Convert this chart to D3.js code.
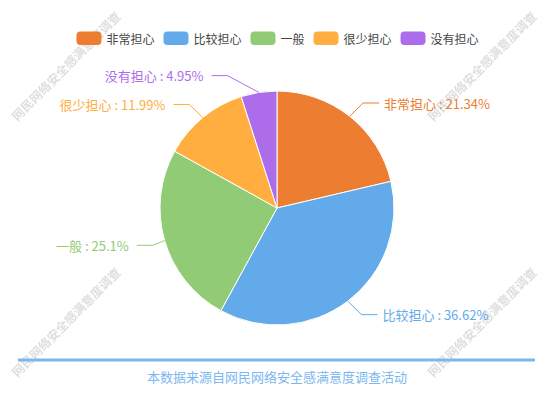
<!DOCTYPE html>
<html><head><meta charset="utf-8">
<script src="https://cdn.jsdelivr.net/npm/d3@7"></script>
<style>html,body{margin:0;padding:0;background:#fff;}svg{display:block;font-family:"Noto Sans CJK SC","Noto Sans",sans-serif;}</style>
</head><body>
<svg id="chart" width="554" height="393"></svg>
<script>
const categories = ["非常担心","比较担心","一般","很少担心","没有担心"];
const values = [21.34, 36.62, 25.1, 11.99, 4.95];
const colors = ["#ED7D31","#62AAE9","#92CB75","#FFAE3F","#AD6DEB"];
const watermarkText = "网民网络安全感满意度调查";
const footerText = "本数据来源自网民网络安全感满意度调查活动";

const W = 554, H = 393;
const svg = d3.select("#chart");

// watermark pattern
const defs = svg.append("defs");
const pat = defs.append("pattern").attr("id","wm").attr("patternUnits","userSpaceOnUse")
  .attr("width",416).attr("height",256);
pat.append("text").attr("transform","translate(66,66) rotate(-45)")
  .attr("text-anchor","middle").attr("dominant-baseline","central")
  .attr("font-size",12.3).attr("font-weight","bold").attr("fill","#000").attr("fill-opacity",0.13)
  .text(watermarkText);
svg.append("rect").attr("width",W).attr("height",H).attr("fill","url(#wm)");

// legend
const legend = svg.append("g");
const items = legend.selectAll("g").data(categories).join("g");
items.append("rect").attr("width",25).attr("height",13.5).attr("rx",4).attr("ry",4)
  .attr("fill",(d,i)=>colors[i]);
items.append("text").attr("x",30).attr("y",7).attr("dominant-baseline","central")
  .attr("font-size",12).attr("fill","#444").text(d=>d);
let lx = 0;
items.each(function(){
  const g = d3.select(this);
  g.attr("transform",`translate(${lx},0)`);
  const tw = g.select("text").node().getComputedTextLength();
  lx += 30 + tw + 9;
});
const totalW = lx - 9;
legend.attr("transform",`translate(${(W-totalW)/2+0.5},31.5)`);

// pie
const cx = 277, cy = 208, R = 117, len1 = 17, len2 = 16, labelDist = 5;
const pie = d3.pie().sort(null).value(d=>d);
const arcs = pie(values);
const arc = d3.arc().innerRadius(0).outerRadius(R);
const gPie = svg.append("g").attr("transform",`translate(${cx},${cy})`);
gPie.selectAll("path").data(arcs).join("path").attr("d",arc)
  .attr("fill",(d,i)=>colors[i]).attr("stroke","#fff").attr("stroke-width",1);

// label layout (echarts-like)
const layout = arcs.map((a,i)=>{
  const mid = (a.startAngle+a.endAngle)/2;
  const dx = Math.sin(mid), dy = -Math.cos(mid);
  return {i, p1:[cx+R*dx, cy+R*dy], y: cy+(R+len1)*dy, dir: dx<0?-1:1};
});
const full = R+len1+len2;
[-1,1].forEach(dir=>{
  const side = layout.filter(l=>l.dir===dir).sort((a,b)=>a.y-b.y);
  const up = side.filter(l=>l.y<cy), down = side.filter(l=>l.y>=cy);
  let last = 0;
  up.forEach(l=>{ let d = Math.sqrt(Math.max(0,full*full-(l.y-cy)**2)); if(d<=last) d=last+10; l.x = cx+d*dir; last=d; });
  last = Infinity;
  down.forEach(l=>{ let d = Math.sqrt(Math.max(0,full*full-(l.y-cy)**2)); if(d>=last) d=last-10; l.x = cx+d*dir; last=d; });
});
const gLab = svg.append("g");
layout.forEach(l=>{
  const end = l.x - l.dir*labelDist;
  const elbow = end - l.dir*len2;
  gLab.append("path").attr("d", d3.line()([l.p1,[elbow,l.y],[end,l.y]]))
    .attr("fill","none").attr("stroke",colors[l.i]).attr("stroke-width",1);
  gLab.append("text").attr("x", l.dir<0 ? l.x-3 : l.x).attr("y", l.y)
    .attr("dominant-baseline","central").attr("text-anchor", l.dir<0?"end":"start")
    .attr("font-size",13).attr("fill",colors[l.i])
    .text(`${categories[l.i]} : ${values[l.i]}%`);
});

// footer
svg.append("line").attr("x1",18).attr("x2",535).attr("y1",360).attr("y2",360)
  .attr("stroke","#7DB7F0").attr("stroke-width",3);
svg.append("text").attr("x",277).attr("y",376).attr("text-anchor","middle")
  .attr("dominant-baseline","central").attr("font-size",13).attr("fill","#7DB7F0")
  .text(footerText);
</script>
</body></html>
